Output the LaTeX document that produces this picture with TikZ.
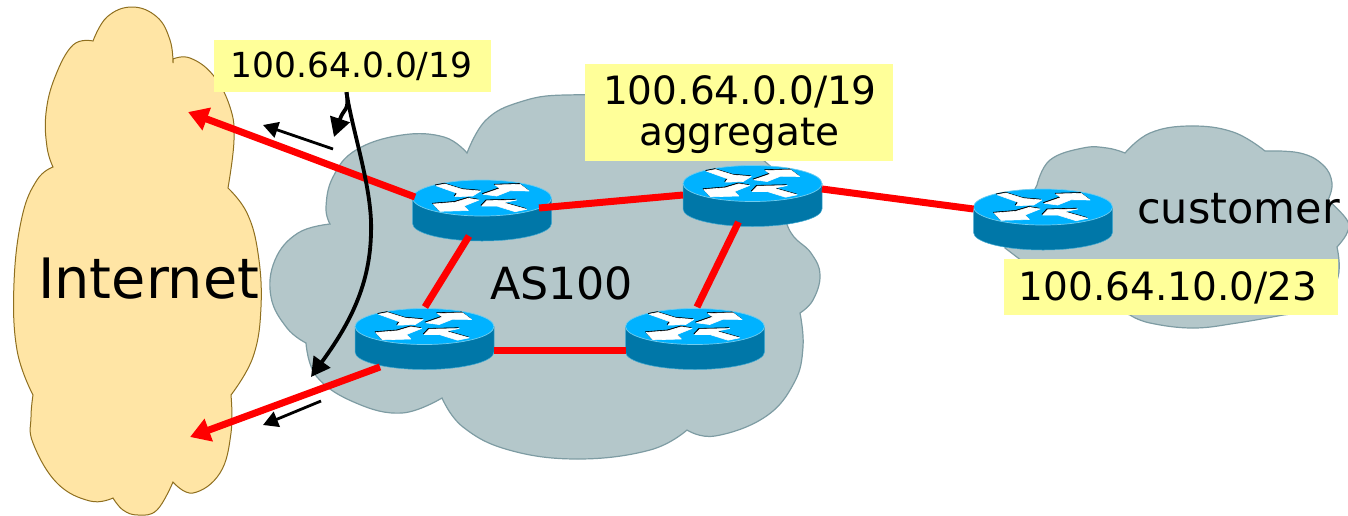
\documentclass[tikz,border=0pt]{standalone}
\usepackage{fontspec}
\setmainfont{DejaVu Sans}
\usetikzlibrary{arrows.meta}
\definecolor{inetfill}{HTML}{FFE5A5}
\definecolor{inetedge}{HTML}{8F6F1F}
\definecolor{cloudfill}{HTML}{B4C7CA}
\definecolor{cloudedge}{HTML}{7E9CA3}
\definecolor{labelfill}{HTML}{FFFF99}
\definecolor{rtop}{HTML}{00B2FF}
\definecolor{rside}{HTML}{0077A8}
\definecolor{redge}{HTML}{70CCEE}
\newcommand{\fs}[1]{\fontsize{#1}{#1}\selectfont}
\tikzset{
  x=1pt,y=-1pt,
  inetcloud/.style={fill=inetfill,draw=inetedge,line width=1pt},
  ascloud/.style={fill=cloudfill,draw=cloudedge,line width=1.2pt},
  labelbox/.style={fill=labelfill,draw=none,inner sep=0pt},
  plain/.style={inner sep=0pt,anchor=base west},
  labeltext/.style={inner sep=0pt,anchor=base},
  routerbox/.style={inner sep=0pt,minimum width=140pt,minimum height=61pt},
  redlink/.style={draw=red,line width=7pt},
  redarrow/.style={redlink,-{Triangle[length=20pt,width=23pt]}},
  thinarrow/.style={draw=black,line width=2.8pt,-{Triangle[length=15pt,width=16pt]}},
  advert/.style={draw=black,line width=3.8pt,-{Triangle[length=19pt,width=20pt]}},
  lobe/.style={smooth,tension=.7},
  routerpic/.pic={
    \path[fill=rside,draw=redge!60!rside,line width=.5pt] (-69.5,-12.5) -- (-69.5,13)
      arc[start angle=180,end angle=360,x radius=69.5pt,y radius=17.5pt] -- (69.5,-12.5) -- cycle;
    \path[fill=rtop,draw=redge,line width=.7pt] (0,-12.5) ellipse [x radius=69.5pt,y radius=18pt];
    \foreach \sx/\sy/\c in {-.8/-.8/black,0/0/white}{
      \begin{scope}[shift={(\sx,\sy)}]
      \filldraw[\c,line width=.6pt,line join=round] (-46,-24.8) -- (-37,-26.5) -- (-19.3,-21) -- (-1.3,-19.5) -- (-9.3,-14.5) -- (-27,-13.8) -- (-24.7,-17.2) -- cycle;
      \filldraw[\c,line width=.6pt,line join=round] (1.3,-16.2) -- (18,-22) -- (13,-25.5) -- (38,-26.2) -- (47,-19.5) -- (28,-19.8) -- (14.7,-14.5) -- cycle;
      \filldraw[\c,line width=.6pt,line join=round] (-48.7,-6.5) -- (-27,-8.2) -- (-13.7,-12.2) -- (-3,-10.5) -- (-18,-4.5) -- (-13.7,0) -- (-42,.8) -- cycle;
      \filldraw[\c,line width=.6pt,line join=round] (-.3,-4.5) -- (4.7,-9.8) -- (34.7,-10.5) -- (21.3,-7.8) -- (44.7,-1.2) -- (33,1.2) -- (14.7,-4.5) -- cycle;
      \end{scope}
    }
  }
}
\begin{document}
\begin{tikzpicture}
\useasboundingbox (0,0) rectangle (1348,515);
% Internet cloud
\path[inetcloud]
  plot[lobe] coordinates {(93,41) (107,17) (132,7) (157,17) (170,40) (173,63)}
  -- plot[lobe] coordinates {(173,59) (190,58) (213,75) (230,107) (234,140) (228,188)}
  -- plot[lobe] coordinates {(228,188) (247,213) (258,253) (261,307) (253,357) (231,395)}
  -- plot[lobe] coordinates {(231,395) (231,433) (220,473) (193,493) (173,482)}
  -- plot[lobe] coordinates {(173,482) (157,510) (138,515) (123,510) (113,498)}
  -- plot[lobe] coordinates {(113,498) (90,501) (57,483) (33,443) (31,417) (33,395)}
  -- plot[lobe] coordinates {(33,395) (17,350) (14,283) (22,217) (37,180) (53,167)}
  -- plot[lobe] coordinates {(53,167) (47,147) (46,113) (55,77) (73,45) (93,41)}
  -- cycle;
% AS100 cloud
\path[ascloud]
  plot[lobe] coordinates {(330,224) (326,207) (333,177) (356,150) (402,135) (444,137) (467,153)}
  -- plot[lobe] coordinates {(467,153) (486,120) (520,102) (566,95) (640,100) (720,130) (777,172)}
  -- plot[lobe] coordinates {(777,172) (788,227) (811,253) (820,275) (813,300) (800,313)}
  -- plot[lobe] coordinates {(800,313) (803,347) (794,383) (765,417) (715,436) (687,430)}
  -- plot[lobe] coordinates {(687,430) (650,450) (578,459) (509,450) (463,427) (442,398)}
  -- plot[lobe] coordinates {(442,398) (402,413) (356,403) (317,377) (306,343)}
  -- plot[lobe] coordinates {(306,343) (287,328) (271,297) (275,260) (298,233) (330,224)}
  -- cycle;
% customer cloud
\path[ascloud]
  plot[lobe] coordinates {(1037,185) (1050,160) (1083,148) (1107,148) (1125,153)}
  -- plot[lobe] coordinates {(1125,153) (1150,133) (1190,126) (1233,132) (1265,151)}
  -- plot[lobe] coordinates {(1265,151) (1300,153) (1323,165) (1332,183) (1328,200)}
  -- plot[lobe] coordinates {(1328,200) (1347,220) (1347,233) (1337,247)}
  -- plot[lobe] coordinates {(1337,247) (1338,277) (1320,305) (1283,315)}
  -- plot[lobe] coordinates {(1283,315) (1237,323) (1193,328) (1150,323) (1130,315)}
  -- (1060,290) -- (1005,248) -- cycle;
% text on clouds
\node[plain,font=\fs{55.7}] (inet) at (38,298) {Internet};
\node[plain,font=\fs{44.3}] (as) at (490,299) {AS100};
\node[plain,font=\fs{43}] (cust) at (1137,223) {customer};
% labels
\node[labelbox,minimum width=277pt,minimum height=52pt] (b1) at (352.5,66) {};
\node[labelbox,minimum width=308pt,minimum height=97pt] (b2) at (739,112.5) {};
\node[labelbox,minimum width=334pt,minimum height=56pt] (b3) at (1171,287) {};
\node[labeltext,font=\fs{34.5}] (t1) at (351.5,77) {100.64.0.0/19};
\node[labeltext,font=\fs{39}] (t2) at (740,104) {100.64.0.0/19};
\node[labeltext,font=\fs{39}] (t2b) at (739.5,145) {aggregate};
\node[labeltext,font=\fs{39}] (t3) at (1168,300) {100.64.10.0/23};
% routers
\node[routerbox] (r1) at (482,210.5) {};
\node[routerbox] (r2) at (752.5,196) {};
\node[routerbox] (r3) at (424.5,339) {};
\node[routerbox] (r4) at (695,339) {};
\node[routerbox] (r5) at (1043,219.5) {};
\foreach \r in {r1,r2,r3,r4,r5} \pic at (\r) {routerpic};
% free ends
\coordinate (tipA) at (188,112);
\coordinate (tipB) at (190,437);
\coordinate (smA0) at (333,149);
\coordinate (smA1) at (263,125);
\coordinate (smB0) at (321,401);
\coordinate (smB1) at (263,425);
\coordinate (as1) at (311,377);
\coordinate (as2) at (334,137);
% links
\draw[redlink] ([shift={(57,-2.5)}]r1.center) -- ([shift={(-69.5,-1)}]r2.center);
\draw[redlink] ([shift={(69.5,-7)}]r2.center) -- ([shift={(-69.5,-10.5)}]r5.center);
\draw[redlink] ([shift={(-13,25.5)}]r1.center) -- ([shift={(.5,-32)}]r3.center);
\draw[redlink] ([shift={(-14,26)}]r2.center) -- ([shift={(2,-32)}]r4.center);
\draw[redlink] ([shift={(69.5,11)}]r3.center) -- ([shift={(-69.5,11)}]r4.center);
\draw[redarrow] ([shift={(-67,-13.5)}]r1.center) -- (tipA);
\draw[redarrow] ([shift={(-44.5,28)}]r3.center) -- (tipB);
% thin arrows
\draw[thinarrow] (smA0) -- (smA1);
\draw[thinarrow] (smB0) -- (smB1);
\draw[advert] ([xshift=-6pt]b1.south) .. controls +(3,20) and +(10,-30) .. (as2);
\draw[advert] ([xshift=-6pt]b1.south) .. controls (352,130) and (373,190) .. (371,233) .. controls (370,290) and (345,330) .. (as1);
\end{tikzpicture}
\end{document}
